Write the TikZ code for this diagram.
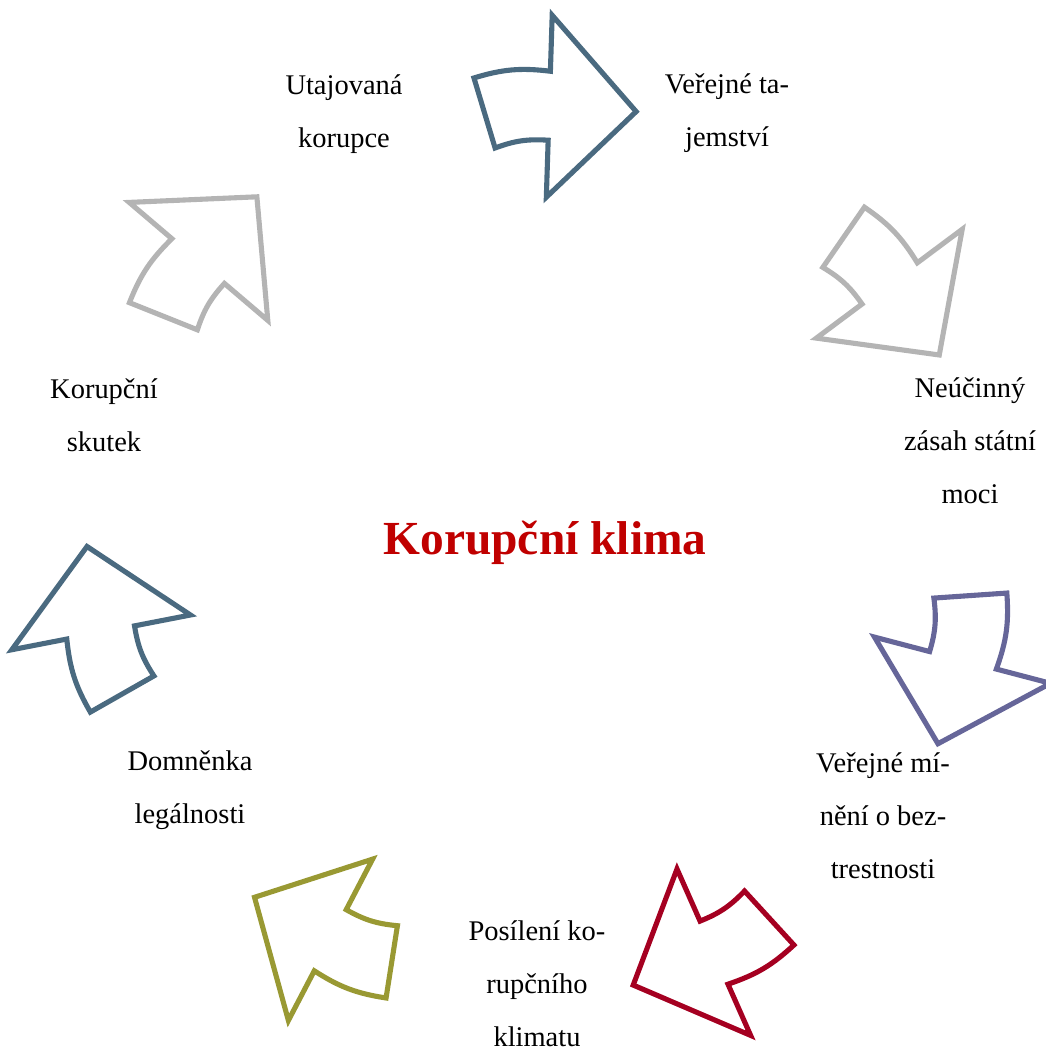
\documentclass[tikz,border=0pt]{standalone}
\usepackage{fontspec}
\setmainfont{Liberation Serif}
\usepackage{tikz}
\usetikzlibrary{positioning,calc}
\definecolor{arrowblue}{HTML}{4A6A80}
\definecolor{arrowgrey}{HTML}{B4B4B4}
\definecolor{arrowviolet}{HTML}{666699}
\definecolor{arrowred}{HTML}{A50021}
\definecolor{arrowolive}{HTML}{999933}
\definecolor{titlered}{HTML}{C00000}
\tikzset{
label/.style = {align=center, inner sep=0pt, font=\fontsize{8.1}{15.1}\selectfont},
title/.style = {inner sep=0pt, text=titlered, font=\fontsize{13.5}{16}\selectfont\bfseries},
cyclearrow/.style = {line width=1.45pt, fill=white, line join=miter}
}

\begin{document}
\begin{tikzpicture}
  \useasboundingbox (0,0) rectangle (10.46,10.48);
  \coordinate (ctr) at (5.35,5.00);

  \node [title]  (klima)     at (5.45,5.05) {Korupční klima};
  \node [label]  (utajovana) at (3.44,9.34) {Utajovaná\\korupce};
  \node [label]  (tajemstvi) at (7.27,9.35) {Veřejné ta-\\jemství};
  \node [label]  (zasah)     at (9.70,6.07) {Neúčinný\\zásah státní\\moci};
  \node [label]  (mineni)    at (8.83,2.32) {Veřejné mí-\\nění o bez-\\trestnosti};
  \node [label]  (posileni)  at (5.37,0.64) {Posílení ko-\\rupčního\\klimatu};
  \node [label]  (legalnost) at (1.90,2.58) {Domněnka\\legálnosti};
  \node [label]  (skutek)    at (1.04,6.33) {Korupční\\skutek};

  % block arrows going clockwise round the centre
  \foreach \k/\col in {0/arrowblue,1/arrowgrey,2/arrowviolet,3/arrowred,4/arrowolive,5/arrowblue,6/arrowgrey} {
    \pgfmathsetmacro{\t}{96.55-\k*360/7}
    \draw [cyclearrow, draw=\col, shift={(ctr)}]
      (\t+0.85:4.74) to[bend left=12] (\t-8.4:4.77) -- (\t-8.4:5.33) -- (\t-19.6:4.48)
      -- (\t-8.4:3.51) -- (\t-8.4:4.08) to[bend right=12] (\t-0.85:4.02) -- cycle;
  }
\end{tikzpicture}
\end{document}
